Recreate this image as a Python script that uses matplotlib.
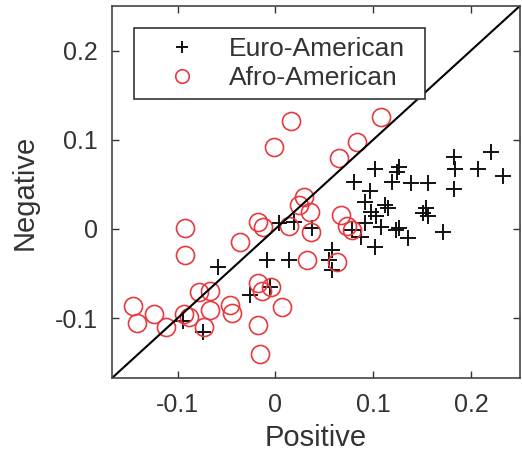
import numpy as np
import matplotlib
matplotlib.use('Agg')
import matplotlib.pyplot as plt

plt.rcParams['font.family'] = ['Liberation Sans', 'DejaVu Sans']
plt.rcParams['axes.unicode_minus'] = False

# Euro-American (black +)
euro_pos = [0.220, 0.183, 0.184, 0.207, 0.233, 0.183, 0.126, 0.124, 0.102, 0.080,
            0.119, 0.139, 0.156, 0.097, 0.092, 0.112, 0.098, 0.103, 0.154, 0.151,
            0.156, 0.092, 0.108, 0.123, 0.136, 0.171, 0.078, 0.088, 0.102, 0.058,
            0.055, 0.058, 0.014, -0.009, -0.059, 0.004, 0.019, 0.037, -0.026, -0.006,
            -0.094, -0.074, 0.115, 0.126]
euro_neg = [0.086, 0.081, 0.067, 0.067, 0.059, 0.045, 0.070, 0.064, 0.067, 0.053,
            0.053, 0.052, 0.052, 0.042, 0.030, 0.027, 0.019, 0.014, 0.023, 0.018,
            0.014, 0.007, 0.002, -0.001, -0.010, -0.003, -0.001, -0.009, -0.020, -0.024,
            -0.035, -0.046, -0.035, -0.035, -0.043, 0.007, 0.008, 0.001, -0.074, -0.065,
            -0.103, -0.116, 0.024, 0.001]

# Afro-American (red o)
afro_pos = [0.016, -0.001, 0.108, 0.083, 0.065, 0.029, 0.024, 0.035, -0.018, -0.013,
            0.014, 0.036, 0.067, 0.073, 0.078, -0.092, -0.092, -0.036, 0.032, 0.063,
            -0.018, -0.014, -0.004, -0.078, -0.067, -0.146, -0.141, -0.124, -0.112, -0.093,
            -0.067, -0.046, -0.044, -0.073, 0.007, -0.018, -0.016, -0.088]
afro_neg = [0.121, 0.092, 0.125, 0.098, 0.080, 0.036, 0.027, 0.019, 0.008, 0.002,
            0.003, -0.003, 0.016, 0.003, -0.001, 0.001, -0.029, -0.015, -0.035, -0.037,
            -0.061, -0.069, -0.065, -0.071, -0.069, -0.086, -0.105, -0.095, -0.110, -0.095,
            -0.091, -0.085, -0.094, -0.110, -0.088, -0.108, -0.140, -0.099]

lo, hi = -0.167, 0.25
ticks = [-0.1, 0, 0.1, 0.2]
tick_labels = ['-0.1', '0', '0.1', '0.2']

fig = plt.figure(figsize=(5.22, 4.53), dpi=100)
ax = fig.add_axes((0.2146, 0.1656, 0.7814, 0.8214))

ax.plot(euro_pos, euro_neg, '+', color='#111111', ms=12, mew=1.4,
        linestyle='none', label='Euro-American')
ax.plot(afro_pos, afro_neg, 'o', mfc='none', mec='#e63a40', ms=13, mew=1.2,
        linestyle='none', label='Afro-American')
ax.plot([lo, hi], [lo, hi], color='black', lw=1.5)

ax.set_xlim(lo, hi)
ax.set_ylim(lo, hi)
ax.set_xticks(ticks)
ax.set_xticklabels(tick_labels)
ax.set_yticks(ticks)
ax.set_yticklabels(tick_labels)
ax.tick_params(direction='in', top=True, right=True, length=5, width=1,
               labelsize=18, colors='#333333')
ax.tick_params(axis='x', pad=11)
ax.tick_params(axis='y', pad=10)
for s in ax.spines.values():
    s.set_color('#444444')
    s.set_linewidth(1.2)

ax.set_xlabel('Positive', fontsize=21, color='#333333', labelpad=5)
ax.set_ylabel('Negative', fontsize=21, color='#333333', labelpad=12)

leg = ax.legend(loc='upper left', bbox_to_anchor=(0.054, 0.5, 0.713, 0.441),
                mode='expand', borderaxespad=0, fontsize=19, fancybox=False,
                edgecolor='#333333', framealpha=1, markerscale=0.75,
                handlelength=2.9, handletextpad=0.35, borderpad=0.35, labelspacing=0.19)
leg.get_frame().set_linewidth(1.2)
for t in leg.get_texts():
    t.set_color('#333333')

plt.savefig('out.png', dpi=100)
